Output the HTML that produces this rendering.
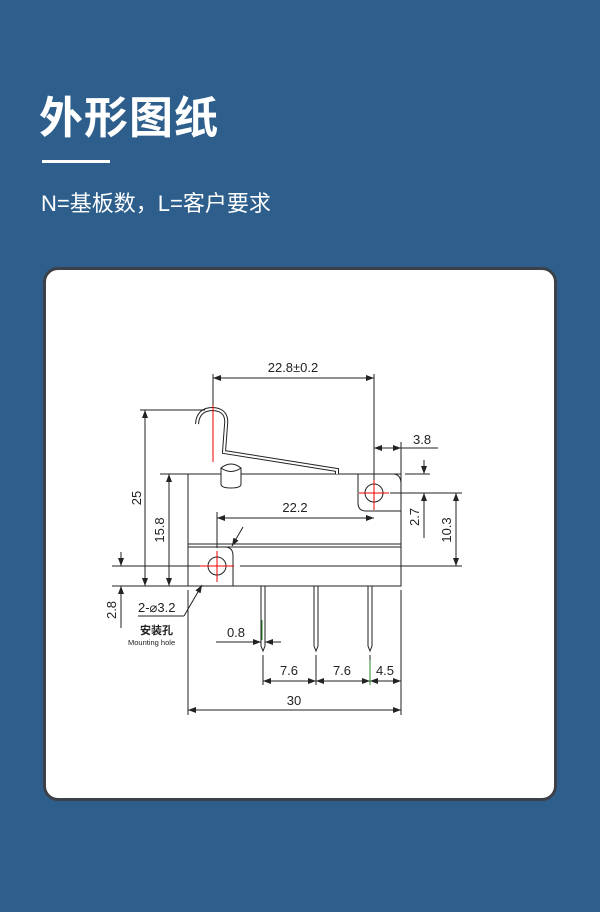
<!DOCTYPE html>
<html><head><meta charset="utf-8"><style>
html,body{margin:0;padding:0}
body{width:600px;height:912px;background:#2e5f8c;position:relative;overflow:hidden;font-family:"Liberation Sans","Noto Sans CJK SC",sans-serif}
.t{position:absolute;left:39px;top:82px;color:#fff;font-size:44px;font-weight:bold;letter-spacing:1px;font-family:"Noto Sans CJK SC",sans-serif}
.ln{position:absolute;left:42px;top:160px;width:68px;height:3px;background:#fff}
.s{position:absolute;left:41px;top:186px;color:#fff;font-size:22px;font-family:"Liberation Sans","Noto Sans CJK SC",sans-serif}
.card{position:absolute;left:43px;top:267px;width:508px;height:528px;background:#fff;border:3px solid #3b4049;border-radius:15px}
svg{position:absolute;left:0;top:0}
</style></head><body>
<div class="t">外形图纸</div>
<div class="ln"></div>
<div class="s">N=基板数，L=客户要求</div>
<div class="card"></div>
<svg width="600" height="912" viewBox="0 0 600 912" font-family="Liberation Sans, Noto Sans CJK SC, sans-serif" font-size="13" fill="#222">
<defs><marker id="a" markerWidth="8" markerHeight="6" refX="8" refY="3" orient="auto-start-reverse" markerUnits="userSpaceOnUse"><path d="M0,0 L8,3 L0,6z" fill="#222"/></marker></defs>
<g stroke="#222" stroke-width="1" fill="none">
<path d="M188,474 H401 V586 H188 Z"/>
<line x1="188" y1="544" x2="401" y2="544"/>
<line x1="188" y1="547" x2="401" y2="547"/>
<path d="M188,547 H225 Q233,547 233,556 V586" fill="#fff"/>
<path d="M358,474 H393 Q401,474 401,484 V511 H366 Q358,511 358,503 Z" fill="#fff"/>
<circle cx="217" cy="566" r="9"/>
<circle cx="374" cy="493" r="9"/>
<path d="M197,424 Q198,409 213,409 Q228,410 226,425 L224,452 L337,470 V474" stroke="#222" stroke-width="4"/>
<path d="M197,424 Q198,409 213,409 Q228,410 226,425 L224,452 L337,470 V474" stroke="#fff" stroke-width="2"/>
<path d="M221,484 V468 Q231,460 241,468 V484 Q241,488 231,488 Q221,488 221,484Z" fill="#fff"/>
<path d="M221,468 Q231,475 241,468"/>
<path d="M261,586 V646 L263,651 L265,646 V586"/>
<path d="M314,586 V646 L316,651 L318,646 V586"/>
<path d="M368,586 V646 L370,651 L372,646 V586"/>
<line x1="213" y1="374" x2="213" y2="410"/>
<line x1="374" y1="374" x2="374" y2="484"/>
<line x1="401" y1="442" x2="401" y2="474"/>
<line x1="140" y1="410" x2="205" y2="410"/>
<line x1="112" y1="586" x2="188" y2="586"/>
<line x1="160" y1="474" x2="188" y2="474"/>
<line x1="405" y1="474" x2="430" y2="474"/>
<line x1="390" y1="493" x2="462" y2="493"/>
<line x1="112" y1="566" x2="204" y2="566"/>
<line x1="240" y1="566" x2="462" y2="566"/>
<line x1="217" y1="512" x2="217" y2="548"/>
<line x1="188" y1="590" x2="188" y2="715"/>
<line x1="401" y1="590" x2="401" y2="715"/>
<line x1="263" y1="655" x2="263" y2="685"/>
<line x1="316" y1="655" x2="316" y2="685"/>
<line x1="370" y1="655" x2="370" y2="685"/>
<line x1="213" y1="378" x2="374" y2="378" marker-start="url(#a)" marker-end="url(#a)"/>
<line x1="374" y1="448" x2="401" y2="448" marker-start="url(#a)" marker-end="url(#a)"/>
<line x1="401" y1="448" x2="438" y2="448"/>
<line x1="145" y1="410" x2="145" y2="586" marker-start="url(#a)" marker-end="url(#a)"/>
<line x1="169" y1="474" x2="169" y2="586" marker-start="url(#a)" marker-end="url(#a)"/>
<line x1="217" y1="518" x2="374" y2="518" marker-start="url(#a)" marker-end="url(#a)"/>
<line x1="424" y1="460" x2="424" y2="474" marker-end="url(#a)"/>
<line x1="424" y1="507" x2="424" y2="493" marker-end="url(#a)"/>
<line x1="424" y1="493" x2="424" y2="538"/>
<line x1="456" y1="493" x2="456" y2="566" marker-start="url(#a)" marker-end="url(#a)"/>
<line x1="121" y1="552" x2="121" y2="566" marker-end="url(#a)"/>
<line x1="121" y1="600" x2="121" y2="586" marker-end="url(#a)"/>
<line x1="121" y1="586" x2="121" y2="628"/>
<line x1="216" y1="642" x2="261" y2="642" marker-end="url(#a)"/>
<line x1="281" y1="642" x2="265" y2="642" marker-end="url(#a)"/>
<line x1="263" y1="681" x2="316" y2="681" marker-start="url(#a)" marker-end="url(#a)"/>
<line x1="316" y1="681" x2="370" y2="681" marker-start="url(#a)" marker-end="url(#a)"/>
<line x1="370" y1="681" x2="401" y2="681" marker-start="url(#a)" marker-end="url(#a)"/>
<line x1="188" y1="710" x2="401" y2="710" marker-start="url(#a)" marker-end="url(#a)"/>
<line x1="243" y1="527" x2="232" y2="546" marker-end="url(#a)"/>
<line x1="184" y1="616" x2="202" y2="585" marker-end="url(#a)"/>
<line x1="184" y1="616" x2="138" y2="616"/>
</g>
<g stroke="#e00" stroke-width="1">
<line x1="213" y1="405" x2="213" y2="462"/>
<line x1="359" y1="493" x2="389" y2="493"/><line x1="374" y1="480" x2="374" y2="510"/>
<line x1="200" y1="566" x2="234" y2="566"/><line x1="217" y1="551" x2="217" y2="582"/>
</g>
<g stroke="#2a8a2a" stroke-width="1">
<line x1="262" y1="620" x2="262" y2="640"/><line x1="370" y1="660" x2="370" y2="685"/>
</g>
<text x="293" y="372" text-anchor="middle">22.8±0.2</text>
<text x="413" y="444">3.8</text>
<text x="295" y="512" text-anchor="middle">22.2</text>
<text x="236" y="637" text-anchor="middle">0.8</text>
<text x="289" y="675" text-anchor="middle">7.6</text>
<text x="342" y="675" text-anchor="middle">7.6</text>
<text x="385" y="675" text-anchor="middle">4.5</text>
<text x="294" y="705" text-anchor="middle">30</text>
<text x="138" y="612">2-⌀3.2</text>
<text x="140" y="634" font-size="11" font-weight="bold">安装孔</text>
<text x="128" y="645" font-size="7.5">Mounting hole</text>
<text transform="translate(141,498) rotate(-90)" text-anchor="middle">25</text>
<text transform="translate(164,530) rotate(-90)" text-anchor="middle">15.8</text>
<text transform="translate(419,517) rotate(-90)" text-anchor="middle">2.7</text>
<text transform="translate(451,530) rotate(-90)" text-anchor="middle">10.3</text>
<text transform="translate(116,610) rotate(-90)" text-anchor="middle">2.8</text>
</svg>
</body></html>
